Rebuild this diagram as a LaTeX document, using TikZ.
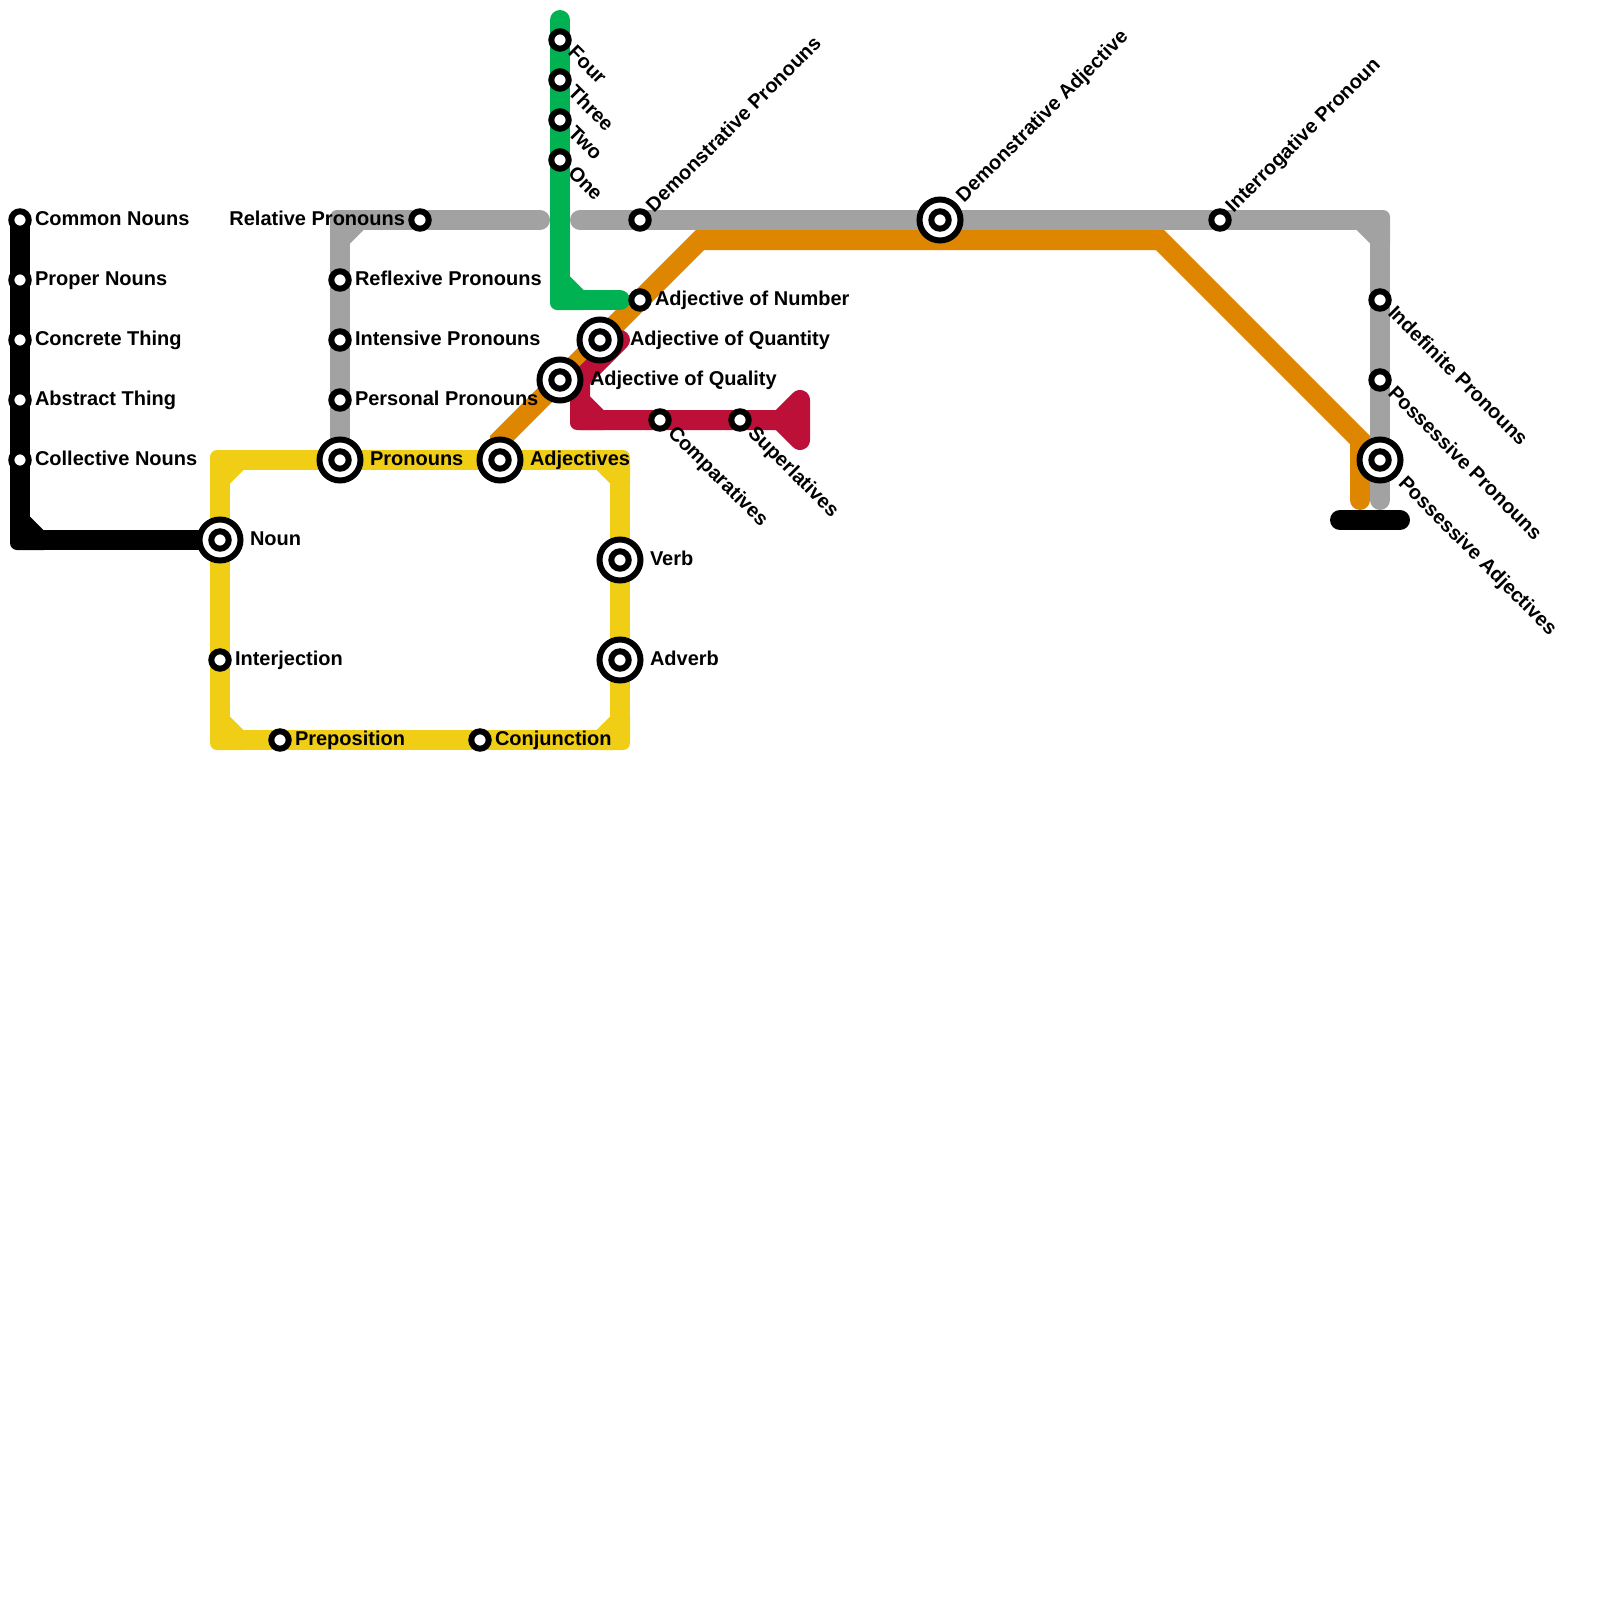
\documentclass[tikz,border=0pt]{standalone}
\usepackage{fontspec}
\setmainfont{Liberation Sans}
\pgfdeclarelayer{lines}
\pgfsetlayers{lines,main}
\definecolor{myellow}{HTML}{F0CE15}
\definecolor{mgray}{HTML}{A2A2A2}
\definecolor{morange}{HTML}{DF8600}
\definecolor{mgreen}{HTML}{00B251}
\definecolor{mred}{HTML}{BD1038}
\tikzset{
  stn/.style={circle,draw=black,fill=white,line width=6pt,minimum size=17.4pt,inner sep=0pt,outer sep=0pt},
  hub/.style={circle,draw=black,fill=white,line width=6pt,minimum size=41pt,inner sep=0pt,outer sep=0pt},
  route/.style={line width=20pt,line join=round,line cap=round},
  lbl/.style={font=\fontsize{20}{24}\selectfont\bfseries,text=black,inner sep=0pt,outer sep=0pt,anchor=base west},
  lble/.style={lbl,anchor=base east},
  down/.style={lbl,rotate=-45},
  up/.style={lbl,rotate=45}
}
% corner patch: colour, x, y, sx, sy (arms run towards sx and sy)
\newcommand{\crn}[5]{\fill[#1] ({#2-10*#4},{#3+23.5*#5}) -- ({#2-10*#4},{#3-3*#5}) .. controls ({#2-10*#4},{#3-6.85*#5}) and ({#2-6.85*#4},{#3-10*#5}) .. ({#2-3*#4},{#3-10*#5}) -- ({#2+23.5*#4},{#3-10*#5}) -- ({#2+23.5*#4},{#3+10*#5}) -- ({#2+10*#4},{#3+23.5*#5}) -- cycle;}
\newcommand{\hubnode}[3]{\node[hub] (#1) at (#2,#3) {}; \node[stn] (#1-in) at (#2,#3) {};}
\begin{document}
\begin{tikzpicture}[x=1pt,y=-1pt]
\useasboundingbox (0,0) rectangle (1600,1600);
% black branch
\node[stn] (common) at (20,220) {};
\node[stn] (proper) at (20,280) {};
\node[stn] (concrete) at (20,340) {};
\node[stn] (abstract) at (20,400) {};
\node[stn] (collective) at (20,460) {};
% yellow loop
\hubnode{noun}{220}{540}
\node[stn] (interj) at (220,660) {};
\node[stn] (prep) at (280,740) {};
\node[stn] (conj) at (480,740) {};
\hubnode{adverb}{620}{660}
\hubnode{verb}{620}{560}
\hubnode{adjectives}{500}{460}
\hubnode{pronouns}{340}{460}
% gray
\node[stn] (personal) at (340,400) {};
\node[stn] (intensive) at (340,340) {};
\node[stn] (reflexive) at (340,280) {};
\node[stn] (relative) at (420,220) {};
\node[stn] (dempro) at (640,220) {};
\hubnode{demadj}{940}{220}
\node[stn] (interrog) at (1220,220) {};
\node[stn] (indef) at (1380,300) {};
\node[stn] (posspro) at (1380,380) {};
\hubnode{possadj}{1380}{460}
% adjectives
\hubnode{quality}{560}{380}
\hubnode{quantity}{600}{340}
\node[stn] (number) at (640,300) {};
\node[stn] (compar) at (660,420) {};
\node[stn] (superl) at (740,420) {};
% green
\node[stn] (four) at (560,40) {};
\node[stn] (three) at (560,80) {};
\node[stn] (two) at (560,120) {};
\node[stn] (one) at (560,160) {};
% way points
\coordinate (bk) at (20,540);
\coordinate (g1) at (340,220);
\coordinate (g2) at (540,220);
\coordinate (g3) at (580,220);
\coordinate (g4) at (1380,220);
\coordinate (g5) at (1380,500);
\coordinate (y1) at (220,460);
\coordinate (y2) at (620,460);
\coordinate (y3) at (620,740);
\coordinate (y4) at (220,740);
\coordinate (o1) at (500,440);
\coordinate (o2) at (700,240);
\coordinate (o3) at (1160,240);
\coordinate (o4) at (1360,440);
\coordinate (o5) at (1360,500);
\coordinate (gr1) at (560,20);
\coordinate (gr2) at (560,300);
\coordinate (gr3) at (620,300);
\coordinate (r1) at (620,340);
\coordinate (r2) at (580,380);
\coordinate (r3) at (580,420);
\coordinate (r4) at (780,420);
\coordinate (r5) at (800,400);
\coordinate (r6) at (800,440);
\coordinate (t1) at (1340,520);
\coordinate (t2) at (1400,520);
\begin{pgfonlayer}{lines}
\draw[route,myellow] (noun.center) -- (interj.center) -- (y4) -- (prep.center) -- (conj.center) -- (y3) -- (adverb.center) -- (verb.center) -- (y2) -- (adjectives.center) -- (pronouns.center) -- (y1) -- cycle;
\crn{myellow}{220}{460}{1}{1}
\crn{myellow}{620}{460}{-1}{1}
\crn{myellow}{220}{740}{1}{-1}
\crn{myellow}{620}{740}{-1}{-1}
\draw[route,morange,line join=miter] (adjectives.center) -- (o1) -- (quality.center) -- (quantity.center) -- (number.center) -- (o2) -- (demadj.center |- o2) -- (o3) -- (o4) -- (o5);
\draw[route,mred] (r1) -- (r2) -- (r3) -- (compar.center) -- (superl.center) -- (r4);
\filldraw[route,mred] (r4) -- (r5) -- (r6) -- cycle;
\crn{mred}{580}{420}{1}{-1}
\draw[route,mgray] (pronouns.center) -- (personal.center) -- (intensive.center) -- (reflexive.center) -- (g1) -- (relative.center) -- (g2);
\crn{mgray}{340}{220}{1}{1}
\draw[route,mgray] (g3) -- (dempro.center) -- (demadj.center) -- (interrog.center) -- (g4) -- (indef.center) -- (posspro.center) -- (possadj.center) -- (g5);
\crn{mgray}{1380}{220}{-1}{1}
\draw[route,mgreen] (gr1) -- (four.center) -- (three.center) -- (two.center) -- (one.center) -- (gr2) -- (gr3);
\crn{mgreen}{560}{300}{1}{-1}
\draw[route,black] (common.center) -- (proper.center) -- (concrete.center) -- (abstract.center) -- (collective.center) -- (bk) -- (noun.center);
\crn{black}{20}{540}{1}{-1}
\draw[route,black] (t1) -- (t2);
\end{pgfonlayer}
% labels
\node[lbl] (l1) at (35,225) {Common Nouns};
\node[lbl] (l2) at (35,285) {Proper Nouns};
\node[lbl] (l3) at (35,345) {Concrete Thing};
\node[lbl] (l4) at (35,405) {Abstract Thing};
\node[lbl] (l5) at (35,465) {Collective Nouns};
\node[lbl] (l6) at (250,545) {Noun};
\node[lbl] (l7) at (235,665) {Interjection};
\node[lbl] (l8) at (295,745) {Preposition};
\node[lbl] (l9) at (495,745) {Conjunction};
\node[lbl] (l10) at (650,565) {Verb};
\node[lbl] (l11) at (650,665) {Adverb};
\node[lbl] (l12) at (370,465) {Pronouns};
\node[lbl] (l13) at (530,465) {Adjectives};
\node[lbl] (l14) at (355,405) {Personal Pronouns};
\node[lbl] (l15) at (355,345) {Intensive Pronouns};
\node[lbl] (l16) at (355,285) {Reflexive Pronouns};
\node[lble] (l17) at (405,225) {Relative Pronouns};
\node[lbl] (l18) at (655,305) {Adjective of Number};
\node[lbl] (l19) at (630,345) {Adjective of Quantity};
\node[lbl] (l20) at (590,385) {Adjective of Quality};
\node[down] (l21) at (567,54) {Four};
\node[down] (l22) at (567,94) {Three};
\node[down] (l23) at (567,134) {Two};
\node[down] (l24) at (567,174) {One};
\node[down] (l25) at (667,434) {Comparatives};
\node[down] (l26) at (747,434) {Superlatives};
\node[down] (l27) at (1387,314) {Indefinite Pronouns};
\node[down] (l28) at (1387,394) {Possessive Pronouns};
\node[down] (l29) at (1397.5,484.5) {Possessive Adjectives};
\node[up] (l30) at (654,213) {Demonstrative Pronouns};
\node[up] (l31) at (964,203) {Demonstrative Adjective};
\node[up] (l32) at (1233.5,213.5) {Interrogative Pronoun};
\end{tikzpicture}
\end{document}
